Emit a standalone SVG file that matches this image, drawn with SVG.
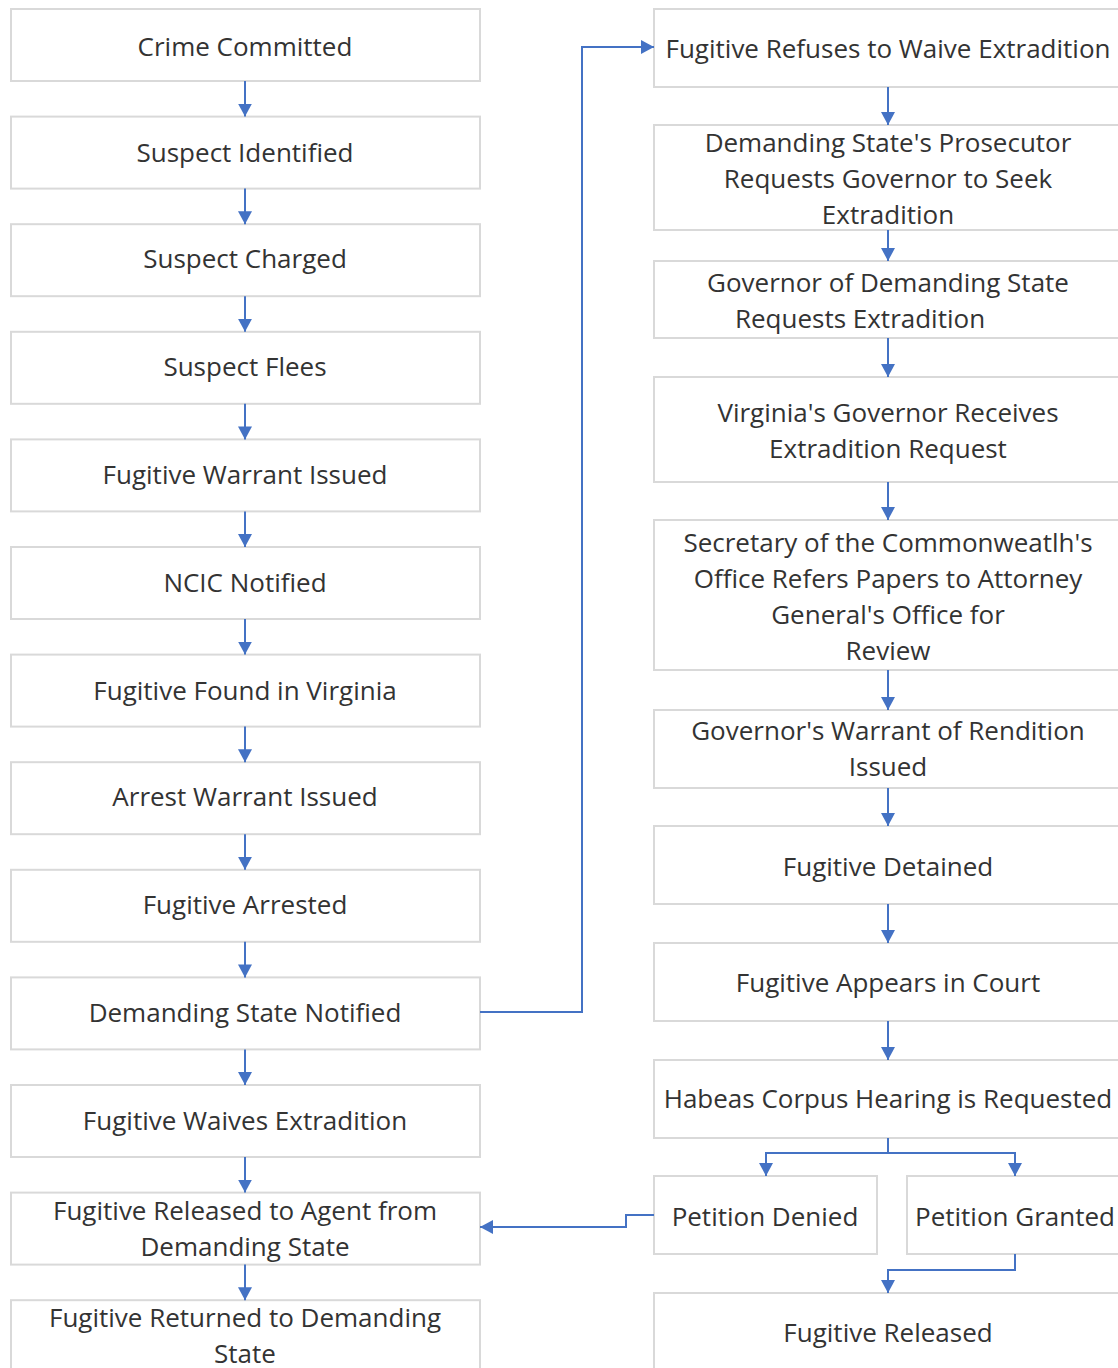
<svg xmlns="http://www.w3.org/2000/svg" width="1118" height="1368" viewBox="0 0 1118 1368">
<defs>
<style>
.box{fill:#ffffff;stroke:#d9d9d9;stroke-width:2}
.t{font-family:"Open Sans","Liberation Sans",sans-serif;font-size:26px;fill:#333333;text-anchor:middle;dominant-baseline:central}
.c{fill:none;stroke:#4472c4;stroke-width:2}
</style>
<marker id="ah" markerUnits="userSpaceOnUse" markerWidth="14" markerHeight="14" refX="13" refY="7" orient="auto">
<path d="M0,0 L13,7 L0,14 z" fill="#4472c4"/>
</marker>
</defs>
<rect width="1118" height="1368" fill="#ffffff"/>
<g id="n1"><rect class="box" x="11" y="9" width="469" height="72"/><text class="t" x="245" y="46">Crime Committed</text></g>
<g id="n2"><rect class="box" x="11" y="116.6" width="469" height="72"/><text class="t" x="245" y="152">Suspect Identified</text></g>
<g id="n3"><rect class="box" x="11" y="224.2" width="469" height="72"/><text class="t" x="245" y="258">Suspect Charged</text></g>
<g id="n4"><rect class="box" x="11" y="331.8" width="469" height="72"/><text class="t" x="245" y="366">Suspect Flees</text></g>
<g id="n5"><rect class="box" x="11" y="439.4" width="469" height="72"/><text class="t" x="245" y="474">Fugitive Warrant Issued</text></g>
<g id="n6"><rect class="box" x="11" y="547" width="469" height="72"/><text class="t" x="245" y="582">NCIC Notified</text></g>
<g id="n7"><rect class="box" x="11" y="654.6" width="469" height="72"/><text class="t" x="245" y="690">Fugitive Found in Virginia</text></g>
<g id="n8"><rect class="box" x="11" y="762.2" width="469" height="72"/><text class="t" x="245" y="796">Arrest Warrant Issued</text></g>
<g id="n9"><rect class="box" x="11" y="869.8" width="469" height="72"/><text class="t" x="245" y="904">Fugitive Arrested</text></g>
<g id="n10"><rect class="box" x="11" y="977.4" width="469" height="72"/><text class="t" x="245" y="1012">Demanding State Notified</text></g>
<g id="n11"><rect class="box" x="11" y="1085" width="469" height="72"/><text class="t" x="245" y="1120">Fugitive Waives Extradition</text></g>
<g id="n12"><rect class="box" x="11" y="1192.6" width="469" height="72"/><text class="t" x="245" y="1210">Fugitive Released to Agent from</text><text class="t" x="245" y="1246">Demanding State</text></g>
<g id="n13"><rect class="box" x="11" y="1300.2" width="469" height="80"/><text class="t" x="245" y="1317">Fugitive Returned to Demanding</text><text class="t" x="245" y="1353">State</text></g>

<g id="r1"><rect class="box" x="654" y="9" width="470" height="78"/><text class="t" x="888" y="48">Fugitive Refuses to Waive Extradition</text></g>
<g id="r2"><rect class="box" x="654" y="125" width="470" height="105"/><text class="t" x="888" y="142">Demanding State's Prosecutor</text><text class="t" x="888" y="178">Requests Governor to Seek</text><text class="t" x="888" y="214">Extradition</text></g>
<g id="r3"><rect class="box" x="654" y="261" width="470" height="77"/><text class="t" x="888" y="282">Governor of Demanding State</text><text class="t" x="860" y="318">Requests Extradition</text></g>
<g id="r4"><rect class="box" x="654" y="377" width="470" height="105"/><text class="t" x="888" y="412">Virginia's Governor Receives</text><text class="t" x="888" y="448">Extradition Request</text></g>
<g id="r5"><rect class="box" x="654" y="520" width="470" height="150"/><text class="t" x="888" y="542">Secretary of the Commonweatlh's</text><text class="t" x="888" y="578">Office Refers Papers to Attorney</text><text class="t" x="888" y="614">General's Office for</text><text class="t" x="888" y="650">Review</text></g>
<g id="r6"><rect class="box" x="654" y="710" width="470" height="78"/><text class="t" x="888" y="730">Governor's Warrant of Rendition</text><text class="t" x="888" y="766">Issued</text></g>
<g id="r7"><rect class="box" x="654" y="826" width="470" height="78"/><text class="t" x="888" y="866">Fugitive Detained</text></g>
<g id="r8"><rect class="box" x="654" y="943" width="470" height="78"/><text class="t" x="888" y="982">Fugitive Appears in Court</text></g>
<g id="r9"><rect class="box" x="654" y="1060" width="470" height="78"/><text class="t" x="888" y="1098">Habeas Corpus Hearing is Requested</text></g>
<g id="r10"><rect class="box" x="654" y="1176" width="223" height="78"/><text class="t" x="765" y="1216">Petition Denied</text></g>
<g id="r11"><rect class="box" x="907" y="1176" width="217" height="78"/><text class="t" x="1015" y="1216">Petition Granted</text></g>
<g id="r12"><rect class="box" x="654" y="1293" width="470" height="90"/><text class="t" x="888" y="1332">Fugitive Released</text></g>

<g id="connectors">
<path class="c" marker-end="url(#ah)" d="M245,81 V116.6"/>
<path class="c" marker-end="url(#ah)" d="M245,188.6 V224.2"/>
<path class="c" marker-end="url(#ah)" d="M245,296.2 V331.8"/>
<path class="c" marker-end="url(#ah)" d="M245,403.8 V439.4"/>
<path class="c" marker-end="url(#ah)" d="M245,511.4 V547"/>
<path class="c" marker-end="url(#ah)" d="M245,619 V654.6"/>
<path class="c" marker-end="url(#ah)" d="M245,726.6 V762.2"/>
<path class="c" marker-end="url(#ah)" d="M245,834.2 V869.8"/>
<path class="c" marker-end="url(#ah)" d="M245,941.8 V977.4"/>
<path class="c" marker-end="url(#ah)" d="M245,1049.4 V1085"/>
<path class="c" marker-end="url(#ah)" d="M245,1157 V1192.6"/>
<path class="c" marker-end="url(#ah)" d="M245,1264.6 V1300.2"/>
<path class="c" marker-end="url(#ah)" d="M480,1012 H582 V47 H654"/>
<path class="c" marker-end="url(#ah)" d="M888,87 V125"/>
<path class="c" marker-end="url(#ah)" d="M888,230 V261"/>
<path class="c" marker-end="url(#ah)" d="M888,338 V377"/>
<path class="c" marker-end="url(#ah)" d="M888,482 V520"/>
<path class="c" marker-end="url(#ah)" d="M888,670 V710"/>
<path class="c" marker-end="url(#ah)" d="M888,788 V826"/>
<path class="c" marker-end="url(#ah)" d="M888,904 V943"/>
<path class="c" marker-end="url(#ah)" d="M888,1021 V1060"/>
<path class="c" marker-end="url(#ah)" d="M888,1138 V1153 H766 V1176"/>
<path class="c" marker-end="url(#ah)" d="M888,1153 H1015 V1176"/>
<path class="c" marker-end="url(#ah)" d="M654,1215 H626 V1227 H480"/>
<path class="c" marker-end="url(#ah)" d="M1015,1254 V1270 H888 V1293"/>
</g>
</svg>
